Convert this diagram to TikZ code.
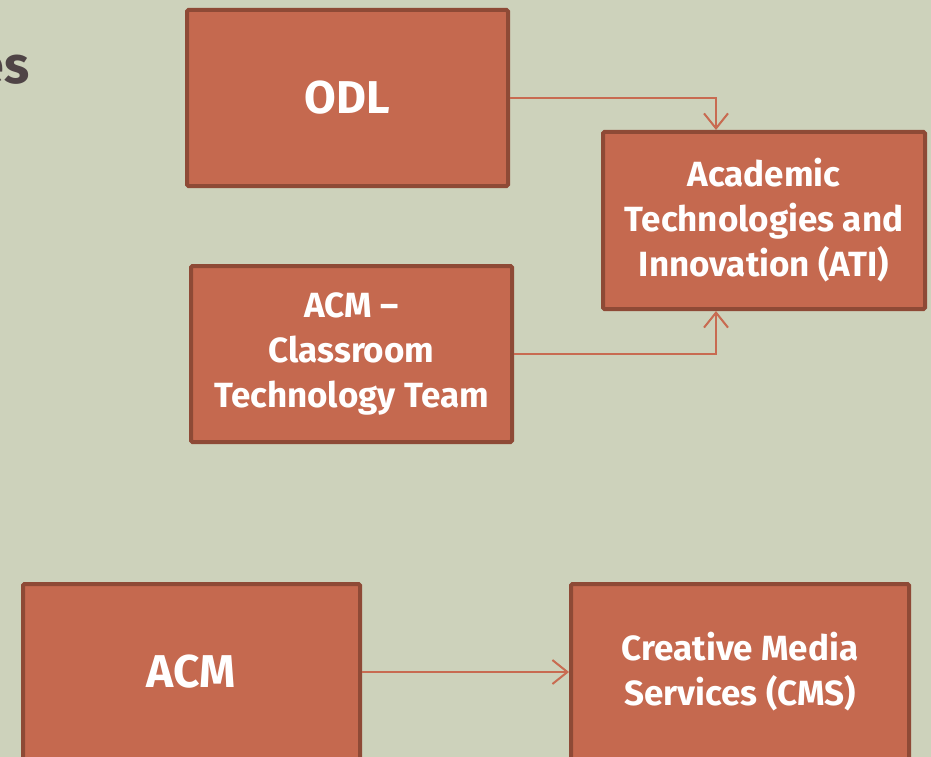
\documentclass[tikz,border=0pt]{standalone}
\usepackage{fontspec}
\setmainfont{Fira Sans}
\usetikzlibrary{arrows.meta}
\definecolor{bgcol}{HTML}{CDD2BB}
\definecolor{boxfill}{HTML}{C5694F}
\definecolor{boxline}{HTML}{8E4A36}
\definecolor{arrcol}{HTML}{C86B51}
\definecolor{headcol}{HTML}{4F4446}
\tikzset{
  every picture/.style={line width=0.8pt},
  unitbox/.style={draw=boxline, fill=boxfill, line width=4pt, rounded corners=1.5pt,
    text=white, align=center, inner sep=0pt, font=\fontsize{35}{45}\selectfont\bfseries},
  bigtext/.style={font=\fontsize{46}{50}\selectfont\bfseries},
  link/.style={draw=arrcol, line width=2pt, -{Straight Barb[length=15pt, width=24pt, line width=2pt]}}
}

\begin{document}
\begin{tikzpicture}[x=1pt, y=-1pt]
    \fill[bgcol] (0,0) rectangle (931,757);
    \useasboundingbox (0,0) rectangle (931,757);

    \node [anchor=east, text=headcol, font=\fontsize{52}{60}\selectfont\bfseries] (head) at (33,70) {es};

    \node [unitbox, bigtext, minimum width=321, minimum height=176] (odl) at (347.5,98) {ODL};
    \node [unitbox, minimum width=322, minimum height=177] (ati) at (764,220.5) {Academic\\Technologies and\\Innovation (ATI)};
    \node [unitbox, minimum width=321, minimum height=176] (ctt) at (351.5,354) {ACM --\\Classroom\\Technology Team};

    \node [unitbox, bigtext, minimum width=337, minimum height=176] (acm) at (191.5,672) {ACM};
    \node [unitbox, minimum width=338, minimum height=176] (cms) at (740,672) {Creative Media\\Services (CMS)};

    \draw [link] (odl.east) -| ([xshift=-48]ati.north);
    \draw [link] (ctt.east) -| ([xshift=-48]ati.south);
    \draw [link] (acm.east) -- (cms.west);
\end{tikzpicture}
\end{document}
